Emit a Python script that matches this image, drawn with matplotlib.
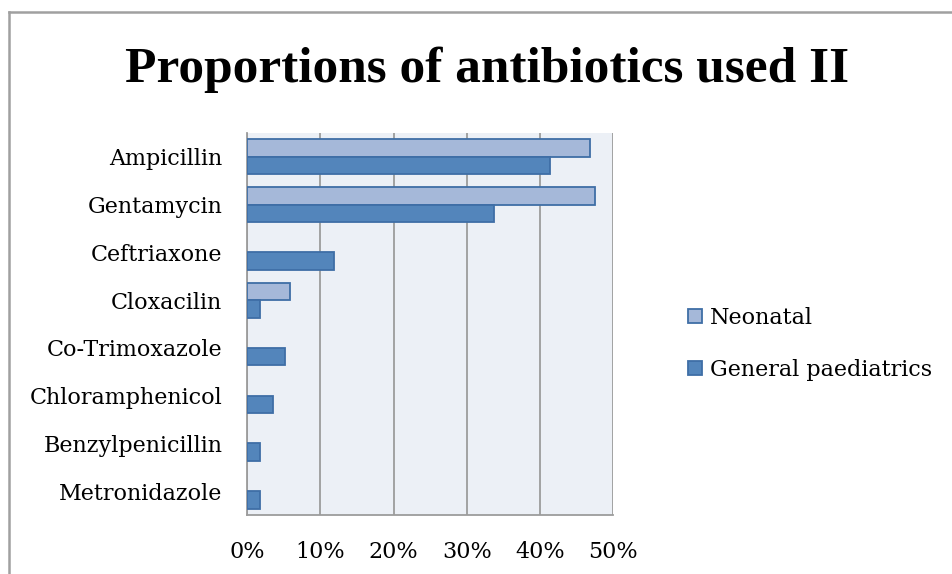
import matplotlib.pyplot as plt
import numpy as np

drugs = ['Ampicillin', 'Gentamycin', 'Ceftriaxone', 'Cloxacilin', 'Co-Trimoxazole',
         'Chloramphenicol', 'Benzylpenicillin', 'Metronidazole']
neonatal = [46.9, 47.6, 0, 5.9, 0, 0, 0, 0]
general = [41.4, 33.7, 11.9, 1.8, 5.1, 3.5, 1.8, 1.8]
xticks = [0, 10, 20, 30, 40, 50]

plt.rcParams['font.family'] = ['DejaVu Serif']

fig = plt.figure(figsize=(9.52, 5.74), dpi=100)
ax = fig.add_axes([0.2598, 0.1028, 0.3841, 0.6655])
ax.set_facecolor('#ecf0f6')

y = np.arange(len(drugs))
h = 0.367
# empty categories get no bar at all
neo = np.where(np.array(neonatal) > 0, neonatal, np.nan)
gen = np.where(np.array(general) > 0, general, np.nan)
ax.barh(y - h / 2, neo, height=h, color='#a5b8d9', edgecolor='#3f6ea6',
        linewidth=1.3, label='Neonatal', zorder=3)
ax.barh(y + h / 2, gen, height=h, color='#5385bb', edgecolor='#3f6ea6',
        linewidth=1.3, label='General paediatrics', zorder=3)

ax.set_ylim(len(drugs) - 0.5, -0.5)
ax.set_xlim(0, 50)
ax.set_xticks(xticks)
ax.set_xticklabels([f'{t}%' for t in xticks], fontsize=16)
ax.set_yticks(y)
ax.set_yticklabels(drugs, fontsize=16)
ax.tick_params(axis='x', length=0, pad=19)
ax.tick_params(axis='y', length=0, pad=18)
ax.grid(True, axis='x', color='#9c9c9c', linewidth=1.3, zorder=1)
for s in ['top', 'right']:
    ax.spines[s].set_visible(False)
for s in ['left', 'bottom']:
    ax.spines[s].set_color('#9c9c9c')
    ax.spines[s].set_linewidth(1.3)

ax.legend(loc='center left', bbox_to_anchor=(1.205, 0.448), frameon=False,
          fontsize=16, handlelength=0.63, handleheight=0.63, handletextpad=0.35,
          labelspacing=1.35, borderpad=0, borderaxespad=0)

fig.text(0.512, 0.878, 'Proportions of antibiotics used II', ha='center', va='center',
         fontsize=37, fontweight='bold', family='Liberation Serif')

# outer chart frame (left and top edges only)
fig.add_artist(plt.Line2D([8.5 / 952, 8.5 / 952], [0, 1 - 12 / 574], color='#a0a0a0',
                          linewidth=1.8, transform=fig.transFigure))
fig.add_artist(plt.Line2D([8.5 / 952, 1], [1 - 12 / 574, 1 - 12 / 574], color='#a0a0a0',
                          linewidth=1.8, transform=fig.transFigure))

fig.savefig('out.png', dpi=100)
